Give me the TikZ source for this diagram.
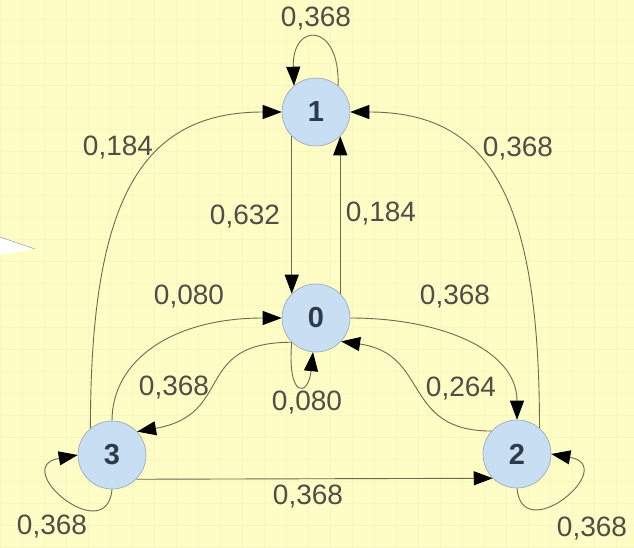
\documentclass[tikz,border=0pt]{standalone}
\usepackage{fontspec}
\setmainfont{Liberation Sans}
\usetikzlibrary{arrows.meta}
\definecolor{bgyellow}{RGB}{254,253,198}
\definecolor{gridline}{RGB}{246,246,192}
\definecolor{nodefill}{RGB}{200,222,242}
\definecolor{nodeline}{RGB}{150,165,180}
\definecolor{nodetext}{RGB}{45,59,76}
\definecolor{edgecol}{RGB}{110,105,80}
\definecolor{labcol}{RGB}{78,78,70}
\tikzset{
  state/.style={circle, minimum size=68pt, inner sep=0pt, fill=nodefill, draw=nodeline, line width=0.6pt,
    text=nodetext, font=\fontsize{29}{31}\selectfont\bfseries},
  trans/.style={draw=edgecol, line width=0.9pt, -{Triangle[length=19pt,width=14pt,fill=black,color=black]}},
  prob/.style={text=labcol, font=\fontsize{28}{30}\selectfont, inner sep=0pt}
}
\begin{document}
\begin{tikzpicture}[x=1pt,y=1pt]
\useasboundingbox (0,0) rectangle (634,547);
\fill[bgyellow] (0,0) rectangle (634,547);
\draw[gridline, line width=0.5pt, step=22pt] (0,0) grid (634,547);
% white wedge at left edge
\fill[white] (0,310) -- (35,298) -- (0,292) -- cycle;
\draw[gray!70, line width=0.6pt] (0,310) -- (35,298);

\node[state] (n1) at (316,435) {1};
\node[state] (n0) at (316,229) {0};
\node[state] (n3) at (112,92) {3};
\node[state] (n2) at (517,93) {2};

% loops
\draw[trans] (n1.50) .. controls +(88:64) and +(92:64) .. (n1.130);
\draw[trans] (n0.-135) .. controls +(-95:56) and +(-96:46) .. (n0.-95);
\draw[trans] (n3.-90) .. controls +(-95:60) and +(190:70) .. (n3.180);
\draw[trans] (n2.-90) .. controls +(-85:60) and +(-10:70) .. (n2.0);

% long arcs to 1
\draw[trans] (n3.129) .. controls +(90:230) and +(180:140) .. (n1.180);
\draw[trans] (n2.49) .. controls +(90:230) and +(0:140) .. (n1.0);

% verticals between 1 and 0
\draw[trans] (n1.-135) -- (n0.135);
\draw[trans] (n0.45) -- (n1.-45);

% between 0 and 3
\draw[trans] (n3.90) .. controls +(90:60) and +(180:110) .. (n0.180);
\draw[trans] (n0.225) .. controls +(180:100) and +(10:100) .. (n3.43);

% between 0 and 2
\draw[trans] (n0.0) .. controls +(0:90) and +(90:70) .. (n2.90);
\draw[trans] (n2.138) .. controls +(180:90) and +(-8:90) .. (n0.-43);

% 3 to 2
\draw[trans] (n3.-45) -- (n2.225);

% labels
\node[prob] (l11) at (316,528) {0,368};
\node[prob] (l31) at (118,399) {0,184};
\node[prob] (l21) at (518,398) {0,368};
\node[prob] (l10) at (245,330) {0,632};
\node[prob] (l01) at (381,333) {0,184};
\node[prob] (l30) at (189,250) {0,080};
\node[prob] (l03) at (174,159) {0,368};
\node[prob] (l00) at (307,144) {0,080};
\node[prob] (l02) at (455,250) {0,368};
\node[prob] (l20) at (461,158) {0,264};
\node[prob] (l32) at (308,50) {0,368};
\node[prob] (l33) at (52,20) {0,368};
\node[prob] (l22) at (592,18) {0,368};
\end{tikzpicture}
\end{document}
